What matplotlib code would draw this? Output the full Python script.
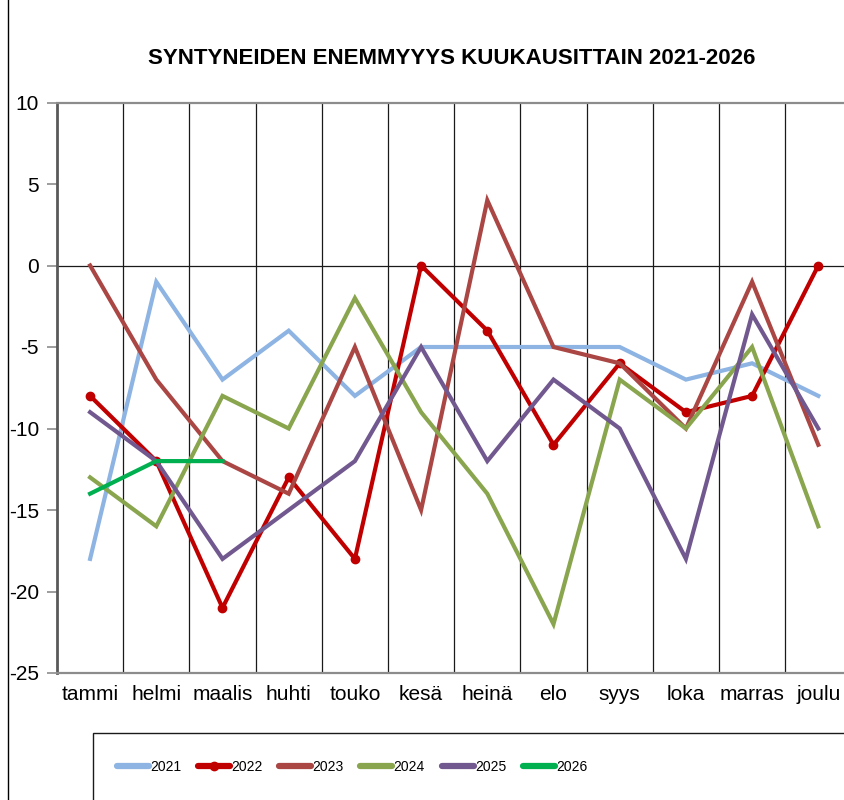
import matplotlib
matplotlib.use("Agg")
import matplotlib.pyplot as plt
from matplotlib.patches import Rectangle
from matplotlib.lines import Line2D

plt.rcParams['font.family'] = ['Liberation Sans', 'DejaVu Sans']

months = ["tammi", "helmi", "maalis", "huhti", "touko", "kesä", "heinä", "elo", "syys", "loka", "marras", "joulu"]
y2021 = [-18, -1, -7, -4, -8, -5, -5, -5, -5, -7, -6, -8]
y2022 = [-8, -12, -21, -13, -18, 0, -4, -11, -6, -9, -8, 0]
y2023 = [0, -7, -12, -14, -5, -15, 4, -5, -6, -10, -1, -11]
y2024 = [-13, -16, -8, -10, -2, -9, -14, -22, -7, -10, -5, -16]
y2025 = [-9, -12, -18, -15, -12, -5, -12, -7, -10, -18, -3, -10]
y2026 = [-14, -12, -12]
yticks = [10, 5, 0, -5, -10, -15, -20, -25]
title = "SYNTYNEIDEN ENEMMYYYS KUUKAUSITTAIN 2021-2026"

W, H = 844, 800
fig = plt.figure(figsize=(W / 100, H / 100), dpi=100)
ax = fig.add_axes([57 / W, 127 / H, 794.4 / W, 570.5 / H])

x = list(range(len(months)))
lw = 3.0
series = [
    ("2021", y2021, "#8DB4E2", None),
    ("2022", y2022, "#C00000", "o"),
    ("2023", y2023, "#AA4643", None),
    ("2024", y2024, "#89A54E", None),
    ("2025", y2025, "#71588F", None),
    ("2026", y2026, "#00B050", None),
]
handles = []
for name, vals, col, mk in series:
    ln, = ax.plot(x[:len(vals)], vals, color=col, lw=lw, marker=mk, markersize=6,
                  solid_joinstyle='miter', zorder=3, label=name)
    handles.append(ln)

ax.set_xlim(-0.5, len(months) - 0.5)
ax.set_ylim(-25, 10)
ax.set_yticks(yticks)
ax.set_yticklabels([str(v) for v in yticks])
ax.set_xticks(x)
ax.set_xticklabels(months)

# vertical category boundary gridlines
for b in range(1, len(months)):
    ax.axvline(b - 0.5, color="#1a1a1a", lw=0.9, zorder=1)
ax.axhline(0, color="#1a1a1a", lw=0.9, zorder=1)

for s in ["top", "bottom"]:
    ax.spines[s].set_color("#8c8c8c")
    ax.spines[s].set_linewidth(1.6)
ax.spines["left"].set_color("#595959")
ax.spines["left"].set_linewidth(2.0)
ax.spines["right"].set_visible(False)

ax.tick_params(axis='y', direction='out', length=7, width=1.2, color="#8c8c8c",
               labelsize=15, pad=6)
ax.tick_params(axis='x', length=0, labelsize=15, pad=9)

fig.text(452 / W, 1 - 59 / H, title, ha='center', va='center',
         fontsize=16, fontweight='bold')

# figure left border line
fig.add_artist(Line2D([7.5 / W, 7.5 / W], [0, 1], color="black", lw=1.0,
                      transform=fig.transFigure))

# legend frame
fig.add_artist(Rectangle((93 / W, -0.05), (860 - 93) / W, 0.05 + (800 - 733) / H,
                         transform=fig.transFigure, fill=False, ec="#1a1a1a", lw=1.0))

leg = fig.legend(handles=handles, loc='center left', bbox_to_anchor=(111 / W, 1 - 767 / H),
                 ncol=6, frameon=False, fontsize=10, handlelength=2.3,
                 handletextpad=0.1, columnspacing=1.2, borderaxespad=0)
for h in leg.get_lines():
    h.set_linewidth(4.5)
    h.set_solid_capstyle('round')

fig.savefig("out.png", dpi=100)
